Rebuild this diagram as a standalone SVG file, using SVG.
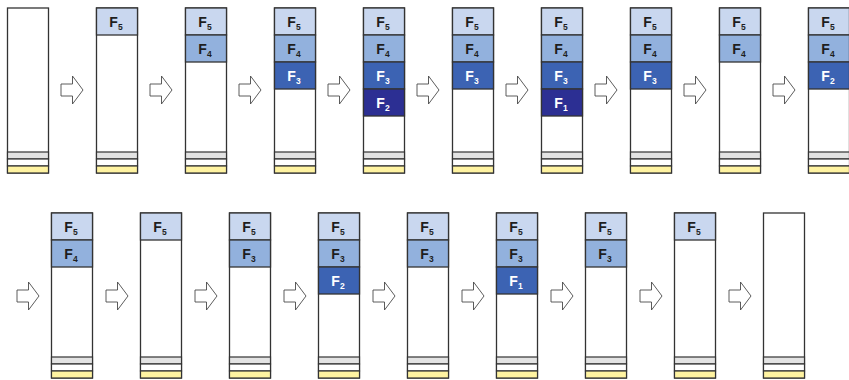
<svg xmlns="http://www.w3.org/2000/svg" xmlns:xlink="http://www.w3.org/1999/xlink" width="849" height="380" viewBox="0 0 849 380">
<style>
.frame{fill:#ffffff;stroke:#333333;stroke-width:1.3}
.gray{fill:#e3e3e3;stroke:#333333;stroke-width:1.2}
.yel{fill:#fff3a1;stroke:#333333;stroke-width:1.2}
.mid{fill:#ffffff;stroke:#333333;stroke-width:1.2}
.l1{fill:#c9d7ef;stroke:#333333;stroke-width:1.3}
.l2{fill:#92b1dd;stroke:#333333;stroke-width:1.3}
.l3{fill:#3c63b3;stroke:#333333;stroke-width:1.3}
.l4{fill:#2c2f93;stroke:#333333;stroke-width:1.3}
.lbl{font-family:"Liberation Sans",Arial,sans-serif;font-weight:bold;font-size:14px;text-anchor:middle}
.dk{fill:#1e1e1e}
.wt{fill:#ffffff}
.sub{font-size:8.5px}
.arrow{fill:#ffffff;stroke:#4a4a4a;stroke-width:0.9;stroke-linejoin:miter}
</style>
<defs>
<g id="col">
<rect class="frame" x="0" y="0" width="41" height="165"/>
<rect class="gray" x="0" y="144" width="41" height="7"/>
<rect class="mid" x="0" y="151" width="41" height="7"/>
<rect class="yel" x="0" y="158" width="41" height="7"/>
</g>
<path id="arr" class="arrow" d="M0,8 H11.5 V0 L22,14 L11.5,28 V20 H0 Z"/>
</defs>

<!-- Top row -->
<g id="t1" transform="translate(7.5,8)"><use xlink:href="#col"/></g>
<g id="t2" transform="translate(96.5,8)"><use xlink:href="#col"/>
<rect class="l1" x="0" y="0" width="41" height="27"/><text class="lbl dk" x="19.5" y="18.5">F<tspan class="sub" dy="3">5</tspan></text>
</g>
<g id="t3" transform="translate(185.5,8)"><use xlink:href="#col"/>
<rect class="l1" x="0" y="0" width="41" height="27"/><text class="lbl dk" x="19.5" y="18.5">F<tspan class="sub" dy="3">5</tspan></text>
<rect class="l2" x="0" y="27" width="41" height="27"/><text class="lbl dk" x="19.5" y="45.5">F<tspan class="sub" dy="3">4</tspan></text>
</g>
<g id="t4" transform="translate(274.5,8)"><use xlink:href="#col"/>
<rect class="l1" x="0" y="0" width="41" height="27"/><text class="lbl dk" x="19.5" y="18.5">F<tspan class="sub" dy="3">5</tspan></text>
<rect class="l2" x="0" y="27" width="41" height="27"/><text class="lbl dk" x="19.5" y="45.5">F<tspan class="sub" dy="3">4</tspan></text>
<rect class="l3" x="0" y="54" width="41" height="27"/><text class="lbl wt" x="19.5" y="72.5">F<tspan class="sub" dy="3">3</tspan></text>
</g>
<g id="t5" transform="translate(363.5,8)"><use xlink:href="#col"/>
<rect class="l1" x="0" y="0" width="41" height="27"/><text class="lbl dk" x="19.5" y="18.5">F<tspan class="sub" dy="3">5</tspan></text>
<rect class="l2" x="0" y="27" width="41" height="27"/><text class="lbl dk" x="19.5" y="45.5">F<tspan class="sub" dy="3">4</tspan></text>
<rect class="l3" x="0" y="54" width="41" height="27"/><text class="lbl wt" x="19.5" y="72.5">F<tspan class="sub" dy="3">3</tspan></text>
<rect class="l4" x="0" y="81" width="41" height="27"/><text class="lbl wt" x="19.5" y="99.5">F<tspan class="sub" dy="3">2</tspan></text>
</g>
<g id="t6" transform="translate(452.5,8)"><use xlink:href="#col"/>
<rect class="l1" x="0" y="0" width="41" height="27"/><text class="lbl dk" x="19.5" y="18.5">F<tspan class="sub" dy="3">5</tspan></text>
<rect class="l2" x="0" y="27" width="41" height="27"/><text class="lbl dk" x="19.5" y="45.5">F<tspan class="sub" dy="3">4</tspan></text>
<rect class="l3" x="0" y="54" width="41" height="27"/><text class="lbl wt" x="19.5" y="72.5">F<tspan class="sub" dy="3">3</tspan></text>
</g>
<g id="t7" transform="translate(541.5,8)"><use xlink:href="#col"/>
<rect class="l1" x="0" y="0" width="41" height="27"/><text class="lbl dk" x="19.5" y="18.5">F<tspan class="sub" dy="3">5</tspan></text>
<rect class="l2" x="0" y="27" width="41" height="27"/><text class="lbl dk" x="19.5" y="45.5">F<tspan class="sub" dy="3">4</tspan></text>
<rect class="l3" x="0" y="54" width="41" height="27"/><text class="lbl wt" x="19.5" y="72.5">F<tspan class="sub" dy="3">3</tspan></text>
<rect class="l4" x="0" y="81" width="41" height="27"/><text class="lbl wt" x="19.5" y="99.5">F<tspan class="sub" dy="3">1</tspan></text>
</g>
<g id="t8" transform="translate(630.5,8)"><use xlink:href="#col"/>
<rect class="l1" x="0" y="0" width="41" height="27"/><text class="lbl dk" x="19.5" y="18.5">F<tspan class="sub" dy="3">5</tspan></text>
<rect class="l2" x="0" y="27" width="41" height="27"/><text class="lbl dk" x="19.5" y="45.5">F<tspan class="sub" dy="3">4</tspan></text>
<rect class="l3" x="0" y="54" width="41" height="27"/><text class="lbl wt" x="19.5" y="72.5">F<tspan class="sub" dy="3">3</tspan></text>
</g>
<g id="t9" transform="translate(719.5,8)"><use xlink:href="#col"/>
<rect class="l1" x="0" y="0" width="41" height="27"/><text class="lbl dk" x="19.5" y="18.5">F<tspan class="sub" dy="3">5</tspan></text>
<rect class="l2" x="0" y="27" width="41" height="27"/><text class="lbl dk" x="19.5" y="45.5">F<tspan class="sub" dy="3">4</tspan></text>
</g>
<g id="t10" transform="translate(808.5,8)"><use xlink:href="#col"/>
<rect class="l1" x="0" y="0" width="41" height="27"/><text class="lbl dk" x="19.5" y="18.5">F<tspan class="sub" dy="3">5</tspan></text>
<rect class="l2" x="0" y="27" width="41" height="27"/><text class="lbl dk" x="19.5" y="45.5">F<tspan class="sub" dy="3">4</tspan></text>
<rect class="l3" x="0" y="54" width="41" height="27"/><text class="lbl wt" x="19.5" y="72.5">F<tspan class="sub" dy="3">2</tspan></text>
</g>

<!-- Bottom row -->
<g id="b1" transform="translate(51.5,213)"><use xlink:href="#col"/>
<rect class="l1" x="0" y="0" width="41" height="27"/><text class="lbl dk" x="19.5" y="18.5">F<tspan class="sub" dy="3">5</tspan></text>
<rect class="l2" x="0" y="27" width="41" height="27"/><text class="lbl dk" x="19.5" y="45.5">F<tspan class="sub" dy="3">4</tspan></text>
</g>
<g id="b2" transform="translate(140.5,213)"><use xlink:href="#col"/>
<rect class="l1" x="0" y="0" width="41" height="27"/><text class="lbl dk" x="19.5" y="18.5">F<tspan class="sub" dy="3">5</tspan></text>
</g>
<g id="b3" transform="translate(229.5,213)"><use xlink:href="#col"/>
<rect class="l1" x="0" y="0" width="41" height="27"/><text class="lbl dk" x="19.5" y="18.5">F<tspan class="sub" dy="3">5</tspan></text>
<rect class="l2" x="0" y="27" width="41" height="27"/><text class="lbl dk" x="19.5" y="45.5">F<tspan class="sub" dy="3">3</tspan></text>
</g>
<g id="b4" transform="translate(318.5,213)"><use xlink:href="#col"/>
<rect class="l1" x="0" y="0" width="41" height="27"/><text class="lbl dk" x="19.5" y="18.5">F<tspan class="sub" dy="3">5</tspan></text>
<rect class="l2" x="0" y="27" width="41" height="27"/><text class="lbl dk" x="19.5" y="45.5">F<tspan class="sub" dy="3">3</tspan></text>
<rect class="l3" x="0" y="54" width="41" height="27"/><text class="lbl wt" x="19.5" y="72.5">F<tspan class="sub" dy="3">2</tspan></text>
</g>
<g id="b5" transform="translate(407.5,213)"><use xlink:href="#col"/>
<rect class="l1" x="0" y="0" width="41" height="27"/><text class="lbl dk" x="19.5" y="18.5">F<tspan class="sub" dy="3">5</tspan></text>
<rect class="l2" x="0" y="27" width="41" height="27"/><text class="lbl dk" x="19.5" y="45.5">F<tspan class="sub" dy="3">3</tspan></text>
</g>
<g id="b6" transform="translate(496.5,213)"><use xlink:href="#col"/>
<rect class="l1" x="0" y="0" width="41" height="27"/><text class="lbl dk" x="19.5" y="18.5">F<tspan class="sub" dy="3">5</tspan></text>
<rect class="l2" x="0" y="27" width="41" height="27"/><text class="lbl dk" x="19.5" y="45.5">F<tspan class="sub" dy="3">3</tspan></text>
<rect class="l3" x="0" y="54" width="41" height="27"/><text class="lbl wt" x="19.5" y="72.5">F<tspan class="sub" dy="3">1</tspan></text>
</g>
<g id="b7" transform="translate(585.5,213)"><use xlink:href="#col"/>
<rect class="l1" x="0" y="0" width="41" height="27"/><text class="lbl dk" x="19.5" y="18.5">F<tspan class="sub" dy="3">5</tspan></text>
<rect class="l2" x="0" y="27" width="41" height="27"/><text class="lbl dk" x="19.5" y="45.5">F<tspan class="sub" dy="3">3</tspan></text>
</g>
<g id="b8" transform="translate(674.5,213)"><use xlink:href="#col"/>
<rect class="l1" x="0" y="0" width="41" height="27"/><text class="lbl dk" x="19.5" y="18.5">F<tspan class="sub" dy="3">5</tspan></text>
</g>
<g id="b9" transform="translate(763.5,213)"><use xlink:href="#col"/></g>

<!-- Connectors -->
<g id="connectors">
<use xlink:href="#arr" x="61" y="76"/>
<use xlink:href="#arr" x="150" y="76"/>
<use xlink:href="#arr" x="239" y="76"/>
<use xlink:href="#arr" x="328" y="76"/>
<use xlink:href="#arr" x="417" y="76"/>
<use xlink:href="#arr" x="506" y="76"/>
<use xlink:href="#arr" x="595" y="76"/>
<use xlink:href="#arr" x="684" y="76"/>
<use xlink:href="#arr" x="773" y="76"/>
<use xlink:href="#arr" x="17" y="282"/>
<use xlink:href="#arr" x="106" y="282"/>
<use xlink:href="#arr" x="195" y="282"/>
<use xlink:href="#arr" x="284" y="282"/>
<use xlink:href="#arr" x="373" y="282"/>
<use xlink:href="#arr" x="462" y="282"/>
<use xlink:href="#arr" x="551" y="282"/>
<use xlink:href="#arr" x="640" y="282"/>
<use xlink:href="#arr" x="729" y="282"/>
</g>
</svg>
